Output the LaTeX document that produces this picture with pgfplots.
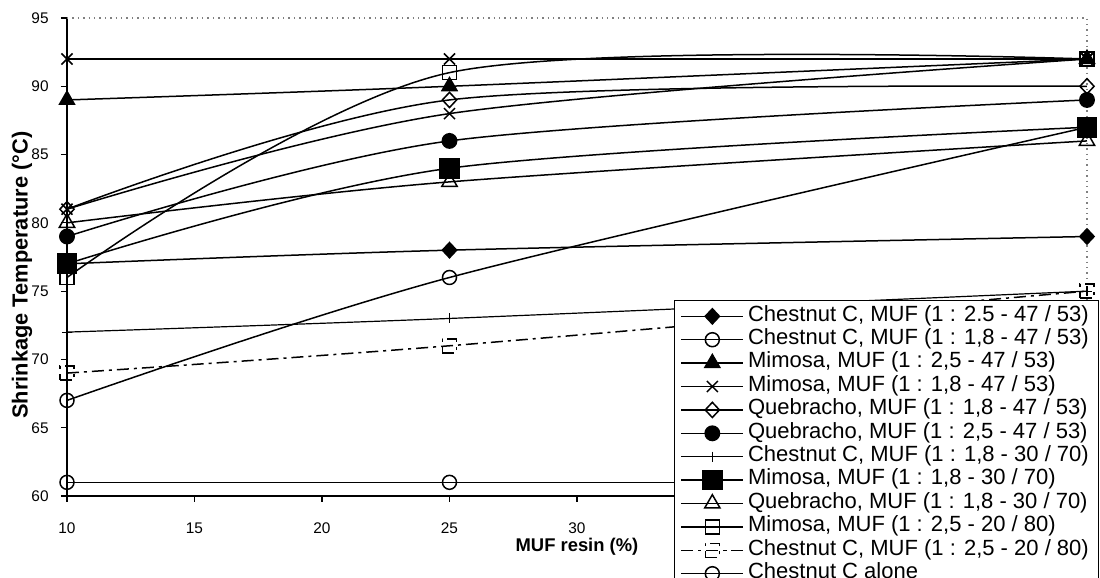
\documentclass[border=0pt]{standalone}
\usepackage{fontspec}
\setmainfont{Liberation Sans}
\usepackage{pgfplots}
\pgfplotsset{compat=1.18}
\begin{document}
\begin{tikzpicture}
\begin{axis}[
  set layers,
  mark layer=like plot,
  at={(0pt,0pt)}, anchor=south west,
  scale only axis, width=510pt, height=239pt,
  xmin=10, xmax=50, ymin=60, ymax=95,
  xtick={10,15,...,50}, ytick={60,65,...,95},
  xticklabels={10,15,20,25,30,,,,},
  yticklabel={\pgfmathprintnumber{\tick}},
  axis lines=left, axis line style={-, line width=0.6pt},
  tick align=outside, major tick length=3pt,
  tick style={black, line width=0.6pt},
  /pgf/number format/assume math mode=true,
  ticklabel style={font=\fontsize{7.7}{9}\selectfont},
  xticklabel style={anchor=center, inner sep=0pt, yshift=-13pt},
  yticklabel style={anchor=east, inner sep=0pt, xshift=-6pt},
  xlabel={\bfseries MUF resin (\%)},
  ylabel={\bfseries Shrinkage Temperature (°C)},
  xlabel style={font=\fontsize{9.2}{11}\selectfont, at={(axis description cs:0.5,-0.1067)}, anchor=center},
  ylabel style={font=\fontsize{10.9}{12}\selectfont, at={(axis description cs:-0.0441,0.462)}, anchor=center},
  clip=false,
  every axis plot/.append style={black, line width=0.75pt, smooth},
  every mark/.append style={solid},
  legend image code/.code={\draw[mark repeat=2,mark phase=2,#1] plot coordinates {(0pt,0pt) (15.5pt,0pt) (31pt,0pt)};},
  legend cell align=left,
  legend style={at={(rel axis cs:0.5951,0.410)}, anchor=north west,
    font=\fontsize{11}{12}\selectfont, draw=black, fill=white, line width=0.6pt,
    inner xsep=3pt, inner ysep=2pt, row sep=0pt,
    nodes={inner sep=2pt, text height=6.2pt, text depth=1.5pt}},
]
\draw[gray, dotted, line width=0.7pt] (rel axis cs:0,1) -- (rel axis cs:1,1) -- (rel axis cs:1,0);
% flat series at 92 (legend entry not visible in the reference)
\addplot[mark=x, mark size=3.9pt, forget plot] coordinates {(10,92) (25,92) (50,92)};
\addplot[mark=diamond*, mark size=3.8pt, mark options={xscale=1.25}] coordinates {(10,77) (25,78) (50,79)};
\addlegendentry{Chestnut C, MUF (1 : 2.5 - 47 / 53)}
\addplot[mark=o, mark size=3.5pt] coordinates {(10,67) (25,76) (50,87)};
\addlegendentry{Chestnut C, MUF (1 : 1,8 - 47 / 53)}
\addplot[mark=triangle*, mark size=4.3pt] coordinates {(10,89) (25,90) (50,92)};
\addlegendentry{Mimosa, MUF (1 : 2,5 - 47 / 53)}
\addplot[mark=x, mark size=3.9pt] coordinates {(10,81) (25,88) (50,92)};
\addlegendentry{Mimosa, MUF (1 : 1,8 - 47 / 53)}
\addplot[mark=diamond, mark size=3.8pt, mark options={xscale=1.25}] coordinates {(10,81) (25,89) (50,90)};
\addlegendentry{Quebracho, MUF (1 : 1,8 - 47 / 53)}
\addplot[mark=*, mark size=3.6pt] coordinates {(10,79) (25,86) (50,89)};
\addlegendentry{Quebracho, MUF (1 : 2,5 - 47 / 53)}
\addplot[mark=+, mark size=2.5pt, line width=0.6pt] coordinates {(10,72) (25,73) (50,75)};
\addlegendentry{Chestnut C, MUF (1 : 1,8 - 30 / 70)}
\addplot[mark=square*, mark size=4.8pt] coordinates {(10,77) (25,84) (50,87)};
\addlegendentry{Mimosa, MUF (1 : 1,8 - 30 / 70)}
\addplot[mark=triangle, mark size=4.4pt] coordinates {(10,80) (25,83) (50,86)};
\addlegendentry{Quebracho, MUF (1 : 1,8 - 30 / 70)}
\addplot[mark=square, mark size=3.5pt, mark options={fill=white}] coordinates {(10,76) (25,91) (50,92)};
\addlegendentry{Mimosa, MUF (1 : 2,5 - 20 / 80)}
\addplot[mark=square, mark size=3.5pt, dash pattern=on 6pt off 2.5pt on 1.5pt off 2.5pt] coordinates {(10,69) (25,71) (50,75)};
\addlegendentry{Chestnut C, MUF (1 : 2,5 - 20 / 80)}
\addplot[mark=o, mark size=3.5pt] coordinates {(10,61) (25,61) (50,61)};
\addlegendentry{Chestnut C alone}
\end{axis}
\pgfresetboundingbox
\useasboundingbox (-33.5pt,-41pt) rectangle (516.5pt,248pt);
\end{tikzpicture}
\end{document}
